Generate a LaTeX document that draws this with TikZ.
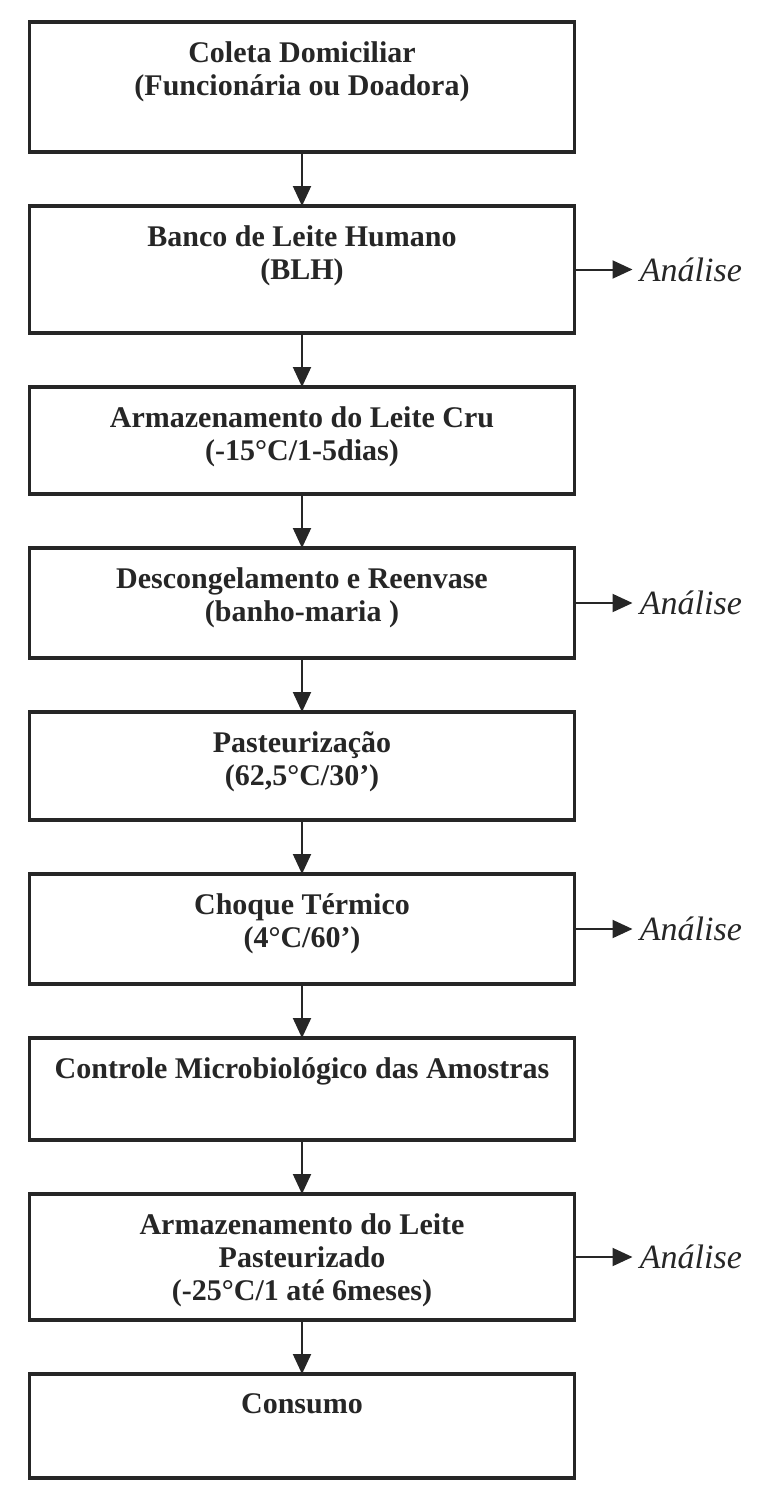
\documentclass[tikz,border=0pt]{standalone}
\usepackage{fontspec}
\setmainfont{Liberation Serif}
\usetikzlibrary{arrows.meta, positioning}

\colorlet{ink}{black!85}
% box text, set at the top of a box of fixed height
\newcommand{\boxtxt}[2]{\parbox[c][#1][t]{272.5pt}{\centering\vspace*{10pt}#2\par}}

\begin{document}
\begin{tikzpicture}[x=0.5pt, y=-0.5pt, node distance=27pt,
  stepbox/.style={draw=ink, line width=1.8pt, inner sep=0pt, outer sep=0pt, text=ink, font=\fontsize{15}{16.5}\selectfont\bfseries},
  note/.style={inner sep=3.5pt, text=ink, font=\fontsize{17}{19}\selectfont\itshape},
  flow/.style={-{Triangle[length=10pt, width=9pt]}, draw=ink, line width=1pt}]
\useasboundingbox (0,0) rectangle (757,1488);

% Processing steps, top to bottom
\node[stepbox, anchor=north] (coleta) at (302,22) {\boxtxt{65pt}{Coleta Domiciliar\\(Funcionária ou Doadora)}};
\node[stepbox, below=of coleta] (blh)    {\boxtxt{63.5pt}{Banco de Leite Humano\\(BLH)}};
\node[stepbox, below=of blh]    (cru)    {\boxtxt{53.5pt}{Armazenamento do Leite Cru\\(-15°C/1-5dias)}};
\node[stepbox, below=of cru]    (degelo) {\boxtxt{55pt}{Descongelamento e Reenvase\\(banho-maria )}};
\node[stepbox, below=of degelo] (pasteur){\boxtxt{54pt}{Pasteurização\\(62,5°C/30’)}};
\node[stepbox, below=of pasteur](choque) {\boxtxt{55pt}{Choque Térmico\\(4°C/60’)}};
\node[stepbox, below=of choque] (micro)  {\boxtxt{51pt}{Controle Microbiológico das Amostras}};
\node[stepbox, below=of micro]  (estoque){\boxtxt{63pt}{Armazenamento do Leite\\Pasteurizado\\(-25°C/1 até 6meses)}};
\node[stepbox, below=of estoque](consumo){\boxtxt{52pt}{Consumo}};

% Main flow
\draw[flow] (coleta)  -- (blh);
\draw[flow] (blh)     -- (cru);
\draw[flow] (cru)     -- (degelo);
\draw[flow] (degelo)  -- (pasteur);
\draw[flow] (pasteur) -- (choque);
\draw[flow] (choque)  -- (micro);
\draw[flow] (micro)   -- (estoque);
\draw[flow] (estoque) -- (consumo);

% Sampling points
\node[note, right=29pt of blh]     (an1) {Análise};
\node[note, right=29pt of degelo]  (an2) {Análise};
\node[note, right=29pt of choque]  (an3) {Análise};
\node[note, right=29pt of estoque] (an4) {Análise};
\draw[flow] (blh)     -- (an1);
\draw[flow] (degelo)  -- (an2);
\draw[flow] (choque)  -- (an3);
\draw[flow] (estoque) -- (an4);
\end{tikzpicture}
\end{document}
